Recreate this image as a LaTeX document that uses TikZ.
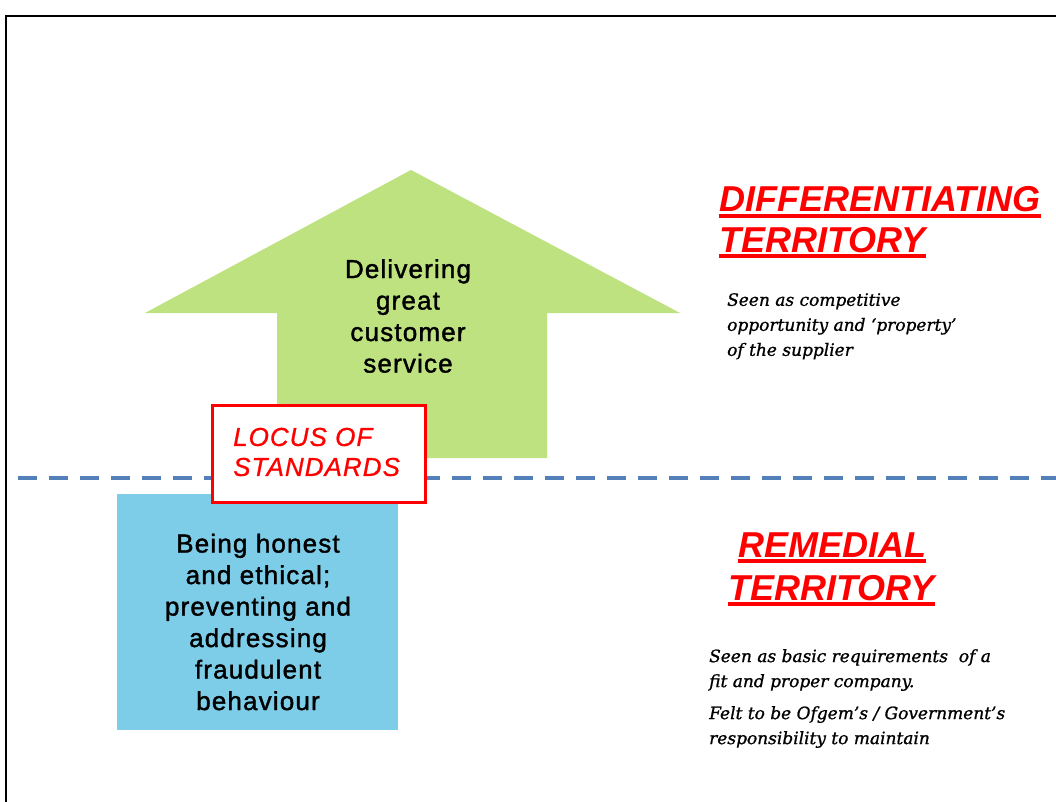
\documentclass[tikz,border=0pt]{standalone}
\usepackage{fontspec}
\setmainfont{Liberation Sans}
\newfontfamily\bodyfont[LetterSpace=4.5,FakeBold=1.5]{Liberation Sans}
\newfontfamily\locusfont[LetterSpace=4,FakeBold=0.8]{Liberation Sans}
\newfontfamily\notefont[FakeBold=1]{DejaVu Serif}
\definecolor{arrowgreen}{RGB}{190,226,128}
\definecolor{boxblue}{RGB}{126,205,232}
\definecolor{dashblue}{RGB}{84,128,186}
\definecolor{hotred}{RGB}{255,0,0}
\begin{document}
\begin{tikzpicture}[x=1pt,y=-1pt,
  frameline/.style={line width=2.4pt,black},
  divider/.style={line width=4pt,dashblue,dash pattern=on 19pt off 12pt},
  bodytext/.style={align=center,font=\bodyfont\fontsize{26}{31.5}\selectfont,text=black,inner sep=0pt},
  headtext/.style={font=\fontsize{36}{41}\selectfont\bfseries\itshape,text=hotred,inner sep=0pt,anchor=base west},
  headrule/.style={line width=3.4pt,hotred},
  notetext/.style={align=left,font=\notefont\itshape\fontsize{17}{25}\selectfont,text=black,inner sep=0pt},
  locusbox/.style={draw=hotred,line width=3pt,fill=white,minimum width=213pt,minimum height=97pt,inner sep=0pt},
  honestbox/.style={fill=boxblue,minimum width=281pt,minimum height=236pt,inner sep=0pt}]
\useasboundingbox (0,0) rectangle (1056,802);
\fill[white] (0,0) rectangle (1056,802);
% outer frame, open to the right and bottom
\draw[frameline] (6,810) -- (6,16) -- (1064,16);
% upward arrow
\fill[arrowgreen] (411,170) -- (680,313) -- (547,313) -- (547,458)
  -- (277,458) -- (277,313) -- (145,313) -- cycle;
\node[bodytext] (service) at (408,316) {Delivering\\great\\customer\\service};
% dashed divider between the two territories
\coordinate (divL) at (18,478);
\coordinate (divR) at (1060,478);
\draw[divider] (divL) -- (divR);
% lower box
\node[honestbox] (honest) at (257.5,612) {};
\node[bodytext] (honesttxt) at (258,622)
  {Being honest\\and ethical;\\preventing and\\addressing\\fraudulent\\behaviour};
% locus label
\node[locusbox] (locus) at (318.5,453.5) {};
\node[align=left,inner sep=0pt,text=hotred,font=\locusfont\fontsize{26}{30}\selectfont\itshape,anchor=west] (locustxt) at (233,452)
  {LOCUS OF\\STANDARDS};
% right-hand headings with their underlines
\node[headtext] (diffA) at (719,212) {DIFFERENTIATING};
\node[headtext] (diffB) at (719,252) {TERRITORY};
\node[headtext] (remA) at (738,557) {REMEDIAL};
\node[headtext] (remB) at (728,600) {TERRITORY};
\foreach \n in {diffA,diffB,remA,remB}
  \draw[headrule] ([yshift=-4pt]\n.base west) -- ([yshift=-4pt]\n.base east);
% notes
\node[notetext,anchor=north west] (diffnote) at (727,293)
  {Seen as competitive\\opportunity and ‘property’\\of the supplier};
\node[notetext,anchor=north west] (remednote) at (709,649)
  {Seen as basic requirements~ of a\\fit and proper company.\\[7pt]Felt to be Ofgem’s / Government’s\\responsibility to maintain};
\end{tikzpicture}
\end{document}
